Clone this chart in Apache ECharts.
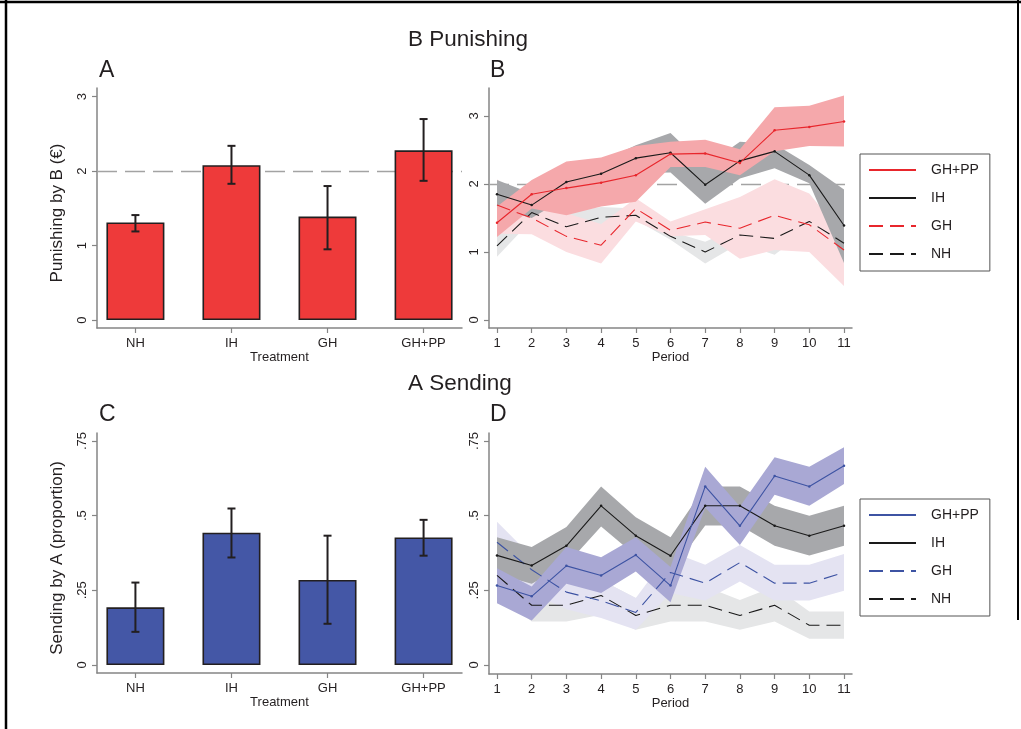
<!DOCTYPE html>
<html><head><meta charset="utf-8">
<script src="https://cdn.jsdelivr.net/npm/echarts@6/dist/echarts.min.js"></script>
<style>html,body{margin:0;padding:0;background:#fff}#c{width:1021px;height:729px}</style>
</head><body><div id="c"></div>
<script>
// ---------- data ----------
const treatments = ['NH', 'IH', 'GH', 'GH+PP'];
const treatmentPos = [1, 2, 3, 4];
const punishMean = [1.31, 2.08, 1.39, 2.28];
const punishLo   = [1.19, 1.83, 0.95, 1.87];
const punishHi   = [1.41, 2.34, 1.80, 2.70];
const sendMean = [0.193, 0.443, 0.285, 0.427];
const sendLo   = [0.111, 0.360, 0.138, 0.366];
const sendHi   = [0.276, 0.524, 0.433, 0.486];

const periods = [1, 2, 3, 4, 5, 6, 7, 8, 9, 10, 11];
// Panel B: punishing by period
const pGHPP   = [1.43, 1.85, 1.94, 2.02, 2.13, 2.44, 2.45, 2.31, 2.79, 2.84, 2.92];
const pGHPPLo = [1.22, 1.64, 1.54, 1.67, 1.74, 2.25, 2.25, 2.13, 2.48, 2.56, 2.55];
const pGHPPHi = [1.67, 2.06, 2.33, 2.39, 2.56, 2.62, 2.65, 2.51, 3.13, 3.15, 3.30];
const pIH     = [1.85, 1.69, 2.03, 2.15, 2.38, 2.46, 1.99, 2.34, 2.48, 2.13, 1.39];
const pIHLo   = [1.64, 1.50, 1.80, 1.96, 2.16, 2.17, 1.71, 2.08, 2.23, 2.01, 0.84];
const pIHHi   = [2.06, 1.86, 2.26, 2.33, 2.57, 2.75, 2.26, 2.62, 2.59, 2.28, 1.92];
const pGH     = [1.69, 1.50, 1.23, 1.10, 1.64, 1.32, 1.44, 1.35, 1.54, 1.40, 1.03];
const pGHLo   = [1.27, 1.26, 1.00, 0.83, 1.45, 1.23, 1.25, 0.90, 1.03, 1.00, 0.50];
const pGHHi   = [2.07, 1.62, 1.57, 1.41, 1.79, 1.45, 1.63, 1.81, 2.07, 1.86, 1.23];
const pNH     = [1.09, 1.58, 1.37, 1.51, 1.54, 1.23, 1.00, 1.25, 1.20, 1.45, 1.13];
const pNHLo   = [0.93, 1.47, 1.20, 1.37, 1.47, 1.18, 0.83, 1.13, 0.96, 1.35, 0.98];
const pNHHi   = [1.27, 1.69, 1.59, 1.66, 1.64, 1.30, 1.15, 1.37, 1.37, 1.52, 1.27];
// Panel D: sending by period
const sGHPP   = [0.266, 0.230, 0.332, 0.300, 0.368, 0.266, 0.598, 0.466, 0.633, 0.598, 0.667];
const sGHPPLo = [0.207, 0.149, 0.272, 0.241, 0.313, 0.210, 0.527, 0.402, 0.570, 0.533, 0.606];
const sGHPPHi = [0.324, 0.263, 0.395, 0.361, 0.428, 0.328, 0.664, 0.531, 0.696, 0.664, 0.729];
const sIH     = [0.367, 0.333, 0.399, 0.533, 0.433, 0.366, 0.533, 0.533, 0.466, 0.433, 0.466];
const sIHLo   = [0.305, 0.272, 0.336, 0.464, 0.366, 0.310, 0.467, 0.467, 0.399, 0.367, 0.399];
const sIHHi   = [0.428, 0.395, 0.462, 0.598, 0.495, 0.428, 0.598, 0.598, 0.533, 0.500, 0.533];
const sGH     = [0.411, 0.319, 0.244, 0.215, 0.176, 0.310, 0.274, 0.343, 0.274, 0.274, 0.310];
const sGHLo   = [0.341, 0.241, 0.187, 0.157, 0.118, 0.241, 0.216, 0.280, 0.216, 0.216, 0.249];
const sGHHi   = [0.480, 0.363, 0.297, 0.285, 0.224, 0.380, 0.336, 0.402, 0.336, 0.336, 0.372];
const sNH     = [0.300, 0.200, 0.200, 0.233, 0.166, 0.200, 0.200, 0.166, 0.200, 0.133, 0.133];
const sNHLo   = [0.241, 0.146, 0.146, 0.168, 0.118, 0.146, 0.146, 0.118, 0.146, 0.088, 0.088];
const sNHHi   = [0.358, 0.263, 0.269, 0.285, 0.224, 0.263, 0.263, 0.218, 0.263, 0.179, 0.179];

const punishTicks = [0, 1, 2, 3];
const sendTicks = [0, 0.25, 0.5, 0.75];
const sendTickLabels = ['0', '.25', '.5', '.75'];

// ---------- styles ----------
const FONT = '"Liberation Sans", Arial, Helvetica, sans-serif';
const AX = '#858585';
const TXT = '#231f20';
const RED = '#e8262c', BLUE = '#3d53a3', BLK = '#1a1a1a';
const DASH = [14, 7];

function xCat(gi) {
  return {
    type: 'value', gridIndex: gi, min: 0.6, max: 4.4,
    axisLine: { show: true, onZero: false, lineStyle: { color: AX, width: 1.5 } },
    axisTick: { show: true, length: 5, customValues: treatmentPos, lineStyle: { color: AX, width: 1.2 } },
    axisLabel: { customValues: treatmentPos, margin: 9, fontSize: 13, color: TXT, fontFamily: FONT,
      formatter: v => treatments[Math.round(v) - 1] },
    splitLine: { show: false },
    name: 'Treatment', nameLocation: 'middle', nameGap: 23,
    nameTextStyle: { fontSize: 13, color: TXT, fontFamily: FONT }
  };
}
function xPer(gi) {
  return {
    type: 'value', gridIndex: gi, min: 0.7695, max: 11.2305,
    axisLine: { show: true, onZero: false, lineStyle: { color: AX, width: 1.5 } },
    axisTick: { show: true, length: 5, customValues: periods, lineStyle: { color: AX, width: 1.2 } },
    axisLabel: { customValues: periods, margin: 9, fontSize: 13, color: TXT, fontFamily: FONT },
    splitLine: { show: false },
    name: 'Period', nameLocation: 'middle', nameGap: 23,
    nameTextStyle: { fontSize: 13, color: TXT, fontFamily: FONT }
  };
}
function yAx(gi, min, max, ticks, fmt, name) {
  const o = {
    type: 'value', gridIndex: gi, min: min, max: max,
    axisLine: { show: true, onZero: false, lineStyle: { color: AX, width: 1.5 } },
    axisTick: { show: true, length: 5, customValues: ticks, lineStyle: { color: AX, width: 1.2 } },
    axisLabel: { customValues: ticks, rotate: 90, margin: 8, fontSize: 13, color: TXT, fontFamily: FONT, formatter: fmt },
    splitLine: { show: false }
  };
  if (name) {
    o.name = name; o.nameLocation = 'middle'; o.nameGap = 31; o.nameRotate = 90;
    o.nameTextStyle = { fontSize: 17, color: TXT, fontFamily: FONT, padding: [0, 10, 0, 0] };
  }
  return o;
}
const sendFmt = v => sendTickLabels[sendTicks.indexOf(v)] !== undefined ? sendTickLabels[sendTicks.indexOf(v)] : String(v);

function band(gi, lo, hi, color) {
  return {
    type: 'custom', xAxisIndex: gi, yAxisIndex: gi, z: 2, silent: true,
    data: periods.map((p, i) => [p, lo[i], hi[i]]),
    encode: { x: 0, y: [1, 2] },
    renderItem: function (params, api) {
      if (params.dataIndex !== 0) return null;
      const top = periods.map((p, i) => api.coord([p, hi[i]]));
      const bot = periods.map((p, i) => api.coord([p, lo[i]])).reverse();
      return { type: 'polygon', shape: { points: top.concat(bot) }, style: { fill: color } };
    }
  };
}
function line(gi, name, vals, color, dashed) {
  return {
    type: 'line', name: name, xAxisIndex: gi, yAxisIndex: gi, z: 4,
    data: periods.map((p, i) => [p, vals[i]]),
    symbol: dashed ? 'none' : 'circle', symbolSize: 2.5, showSymbol: !dashed,
    itemStyle: { color: color },
    lineStyle: { color: color, width: 1.1, type: dashed ? DASH : 'solid' },
    silent: true, animation: false
  };
}
function bars(gi, vals, color) {
  return {
    type: 'bar', xAxisIndex: gi, yAxisIndex: gi, barWidth: 58, z: 2,
    data: treatmentPos.map((p, i) => [p, vals[i]]),
    itemStyle: { color: color, borderColor: '#231f20', borderWidth: 1.6 },
    silent: true
  };
}
function errs(gi, lo, hi) {
  return {
    type: 'custom', xAxisIndex: gi, yAxisIndex: gi, z: 5, silent: true,
    data: treatmentPos.map((p, i) => [p, lo[i], hi[i]]),
    encode: { x: 0, y: [1, 2] },
    renderItem: function (params, api) {
      const a = api.coord([api.value(0), api.value(1)]);
      const b = api.coord([api.value(0), api.value(2)]);
      const w = 4;
      const st = { stroke: '#231f20', lineWidth: 2 };
      return { type: 'group', children: [
        { type: 'line', shape: { x1: a[0], y1: a[1], x2: b[0], y2: b[1] }, style: st },
        { type: 'line', shape: { x1: a[0] - w, y1: a[1], x2: a[0] + w, y2: a[1] }, style: st },
        { type: 'line', shape: { x1: b[0] - w, y1: b[1], x2: b[0] + w, y2: b[1] }, style: st }
      ] };
    }
  };
}
const refLine = {
  silent: true, symbol: 'none', z: 1, label: { show: false },
  lineStyle: { color: '#a3a3a3', width: 1.3, type: [20, 8] },
  data: [{ yAxis: 2 }]
};
function legend(top, names) {
  return {
    orient: 'vertical', left: 860, top: top, data: names,
    borderColor: '#555', borderWidth: 1, backgroundColor: '#fff',
    padding: [9, 11, 10, 8], itemGap: 14, itemWidth: 47, itemHeight: 14,
    itemStyle: { opacity: 0 },
    selectedMode: false,
    formatter: n => n.trim(),
    textStyle: { fontSize: 14, color: TXT, fontFamily: FONT, padding: [0, 0, 0, 10] }
  };
}

const series = [];
// Panel A (grid 0)
const barA = bars(0, punishMean, '#ee3a3a');
barA.markLine = refLine;
series.push(barA, errs(0, punishLo, punishHi));
// Panel B (grid 1)
series.push(band(1, pNHLo, pNHHi, '#e5e6e7'));
series.push(band(1, pGHLo, pGHHi, '#fbdde0'));
series.push(band(1, pIHLo, pIHHi, '#a7a8ab'));
series.push(band(1, pGHPPLo, pGHPPHi, '#f5a8ab'));
const lNH = line(1, 'NH', pNH, BLK, true);
lNH.markLine = refLine;
series.push(lNH, line(1, 'GH', pGH, RED, true), line(1, 'IH', pIH, BLK, false), line(1, 'GH+PP', pGHPP, RED, false));
// Panel C (grid 2)
series.push(bars(2, sendMean, '#4457a6'), errs(2, sendLo, sendHi));
// Panel D (grid 3)
series.push(band(3, sNHLo, sNHHi, '#e5e6e7'));
series.push(band(3, sGHLo, sGHHi, '#e4e3f2'));
series.push(band(3, sIHLo, sIHHi, '#a7a8ab'));
series.push(band(3, sGHPPLo, sGHPPHi, '#a9a8d4'));
series.push(line(3, 'NH ', sNH, BLK, true), line(3, 'GH ', sGH, BLUE, true), line(3, 'IH ', sIH, BLK, false), line(3, 'GH+PP ', sGHPP, BLUE, false));

function txt(x, y, s, size, align) {
  return { type: 'text', x: x, y: y, silent: true,
    style: { text: s, fontSize: size, fontFamily: FONT, fill: TXT, align: align || 'left', verticalAlign: 'middle' } };
}

const option = {
  backgroundColor: '#fff',
  animation: false,
  grid: [
    { left: 97, top: 88, width: 365, height: 240 },
    { left: 489, top: 88, width: 363, height: 240 },
    { left: 97, top: 433, width: 365, height: 240 },
    { left: 489, top: 433, width: 363, height: 241 }
  ],
  xAxis: [xCat(0), xPer(1), xCat(2), xPer(3)],
  yAxis: [
    yAx(0, -0.107, 3.117, punishTicks, v => String(v), 'Punishing by B (€)'),
    yAx(1, -0.1176, 3.4118, punishTicks, v => String(v)),
    yAx(2, -0.0268, 0.7768, sendTicks, sendFmt, 'Sending by A (proportion)'),
    yAx(3, -0.0301, 0.7768, sendTicks, sendFmt)
  ],
  legend: [
    legend(154, ['GH+PP', 'IH', 'GH', 'NH']),
    legend(499, ['GH+PP ', 'IH ', 'GH ', 'NH '])
  ],
  graphic: [
    txt(408, 40, 'B Punishing', 22.5),
    txt(99, 71, 'A', 23),
    txt(490, 71, 'B', 23),
    txt(408, 384, 'A Sending', 22.5),
    txt(99, 415, 'C', 23),
    txt(490, 415, 'D', 23),
    { type: 'line', silent: true, shape: { x1: 0, y1: 2, x2: 1021, y2: 2 }, style: { stroke: '#000', lineWidth: 2.5 } },
    { type: 'line', silent: true, shape: { x1: 6, y1: 0, x2: 6, y2: 729 }, style: { stroke: '#000', lineWidth: 2.5 } },
    { type: 'line', silent: true, shape: { x1: 1018, y1: 0, x2: 1018, y2: 620 }, style: { stroke: '#000', lineWidth: 2 } }
  ],
  series: series
};
const chart = echarts.init(document.getElementById('c'), null, { renderer: 'canvas' });
chart.setOption(option);
</script>
</body></html>
